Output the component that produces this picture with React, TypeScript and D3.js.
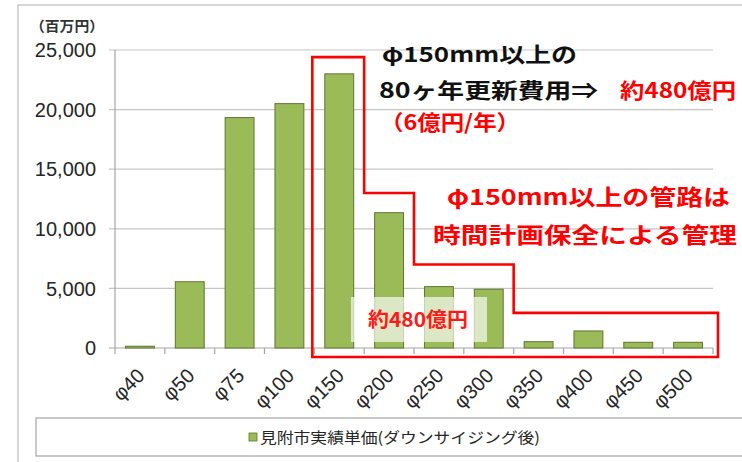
import { useEffect, useRef } from 'react';
import * as d3 from 'd3';

// pipe diameters and renewal cost (百万円)
const categories = ['φ40', 'φ50', 'φ75', 'φ100', 'φ150', 'φ200', 'φ250', 'φ300', 'φ350', 'φ400', 'φ450', 'φ500'];
const costs = [150, 5560, 19330, 20500, 23000, 11350, 5150, 4930, 530, 1430, 480, 480];
const yTicks = [0, 5000, 10000, 15000, 20000, 25000];
const seriesName = '見附市実績単価(ダウンサイジング後)';

// step outline around φ150 and above (right edge category, top level in 百万円)
const outlineSteps: [string, number][] = [
  ['φ150', 24400],
  ['φ200', 13000],
  ['φ300', 7000],
  ['φ500', 2950],
];

const LAT = '"Liberation Sans", "Noto Sans CJK JP", sans-serif';
const JP = '"Noto Sans CJK JP", "Liberation Sans", sans-serif';

export default function App() {
  const ref = useRef<SVGSVGElement>(null);

  useEffect(() => {
    if (!ref.current) return;
    const svg = d3.select(ref.current);
    svg.selectAll('*').remove();

    const left = 115, right = 713, top = 50, bottom = 348;

    const x = d3.scaleBand<string>().domain(categories).range([left, right]).paddingInner(0.42).paddingOuter(0.21);
    const xb = d3.scaleBand<string>().domain(categories).range([left, right]);
    const y = d3.scaleLinear().domain([0, 25000]).range([bottom, top]);

    // outer frame
    svg.append('rect')
      .attr('x', 18).attr('y', 5).attr('width', 800).attr('height', 520)
      .attr('fill', '#fff').attr('stroke', '#bdbdbd').attr('stroke-width', 1.2);

    svg.append('text')
      .attr('x', 30).attr('y', 31)
      .attr('font-family', JP).attr('font-size', 14).attr('font-weight', 'bold').attr('fill', '#333')
      .attr('textLength', 74).attr('lengthAdjust', 'spacingAndGlyphs')
      .text('（百万円）');

    // gridlines + y labels
    yTicks.forEach(t => {
      svg.append('line')
        .attr('x1', left - 6).attr('x2', right)
        .attr('y1', y(t)).attr('y2', y(t))
        .attr('stroke', t === 0 ? '#a6a6a6' : '#c6c6c6').attr('stroke-width', 1.2);
      svg.append('text')
        .attr('x', 96).attr('y', y(t)).attr('dy', '0.36em')
        .attr('text-anchor', 'end')
        .attr('font-family', LAT).attr('font-size', 20).attr('fill', '#262626')
        .text(d3.format(',')(t));
    });

    svg.append('line')
      .attr('x1', left).attr('x2', left).attr('y1', top).attr('y2', bottom + 6)
      .attr('stroke', '#a6a6a6').attr('stroke-width', 1.2);

    categories.forEach(c => {
      const bx = (xb(c) as number) + xb.bandwidth();
      svg.append('line')
        .attr('x1', bx).attr('x2', bx).attr('y1', bottom).attr('y2', bottom + 6)
        .attr('stroke', '#a6a6a6').attr('stroke-width', 1.2);
    });

    // bars
    svg.append('g').selectAll('rect')
      .data(categories)
      .enter()
      .append('rect')
      .attr('x', d => x(d) as number)
      .attr('width', x.bandwidth())
      .attr('y', (d, i) => y(costs[i]))
      .attr('height', (d, i) => bottom - y(costs[i]))
      .attr('fill', '#9bbb59')
      .attr('stroke', '#5f7530')
      .attr('stroke-width', 1);

    // x labels
    categories.forEach(c => {
      const cx = (xb(c) as number) + xb.bandwidth() / 2;
      svg.append('text')
        .attr('transform', `translate(${cx + 6}, ${bottom + 29}) rotate(-45)`)
        .attr('text-anchor', 'end')
        .attr('font-family', LAT).attr('font-size', 20).attr('fill', '#262626')
        .text(c);
    });

    // red step outline
    const firstX = (xb(outlineSteps[0][0]) as number) - 2;
    const pts: [number, number][] = [];
    let cur = firstX;
    outlineSteps.forEach(([cat, lvl], i) => {
      const edge = (xb(cat) as number) + xb.bandwidth() + (i === outlineSteps.length - 1 ? 5 : 0);
      pts.push([cur, y(lvl)]);
      pts.push([edge, y(lvl)]);
      cur = edge;
    });
    pts.push([cur, bottom + 9]);
    pts.push([firstX, bottom + 9]);
    svg.append('path')
      .attr('d', d3.line()(pts) + 'Z')
      .attr('fill', 'none')
      .attr('stroke', '#ff0000')
      .attr('stroke-width', 2.6)
      .attr('stroke-linejoin', 'miter');

    // translucent label box
    svg.append('rect')
      .attr('x', 351).attr('y', 297).attr('width', 136).attr('height', 45)
      .attr('fill', '#ffffff').attr('opacity', 0.65);
    svg.append('text')
      .attr('x', 368).attr('y', 327)
      .attr('font-family', JP).attr('font-size', 20).attr('font-weight', 'bold').attr('fill', '#ff1a1a')
      .attr('textLength', 100).attr('lengthAdjust', 'spacingAndGlyphs')
      .text('約480億円');

    // annotations
    const note = (tx: number, ty: number, txt: string, color: string, len: number, size: number) => {
      svg.append('text')
        .attr('x', tx).attr('y', ty)
        .attr('font-family', JP).attr('font-size', size).attr('font-weight', 'bold').attr('fill', color)
        .attr('textLength', len).attr('lengthAdjust', 'spacingAndGlyphs')
        .text(txt);
    };
    note(382, 62, 'φ150mm以上の', '#111', 195, 21);
    note(379, 98, '80ヶ年更新費用⇒', '#111', 219, 21);
    note(620, 98, '約480億円', '#ff0000', 116, 21);
    note(380, 130, '（6億円/年）', '#ff0000', 140, 21);
    note(447, 205, 'φ150mm以上の管路は', '#ff0000', 283, 22);
    note(433, 243, '時間計画保全による管理', '#ff0000', 304, 22);

    // legend
    svg.append('rect')
      .attr('x', 36).attr('y', 418).attr('width', 760).attr('height', 38)
      .attr('fill', '#fff').attr('stroke', '#a6a6a6').attr('stroke-width', 1.2);
    svg.append('rect')
      .attr('x', 249).attr('y', 433).attr('width', 8).attr('height', 8)
      .attr('fill', '#9bbb59').attr('stroke', '#5f7530').attr('stroke-width', 0.8);
    svg.append('text')
      .attr('x', 260).attr('y', 443)
      .attr('font-family', JP).attr('font-size', 15).attr('fill', '#262626')
      .attr('textLength', 280).attr('lengthAdjust', 'spacingAndGlyphs')
      .text(seriesName);
  }, []);

  return (
    <svg ref={ref} width={742} height={462} style={{ position: 'absolute', left: 0, top: 0, background: '#fff' }} />
  );
}
